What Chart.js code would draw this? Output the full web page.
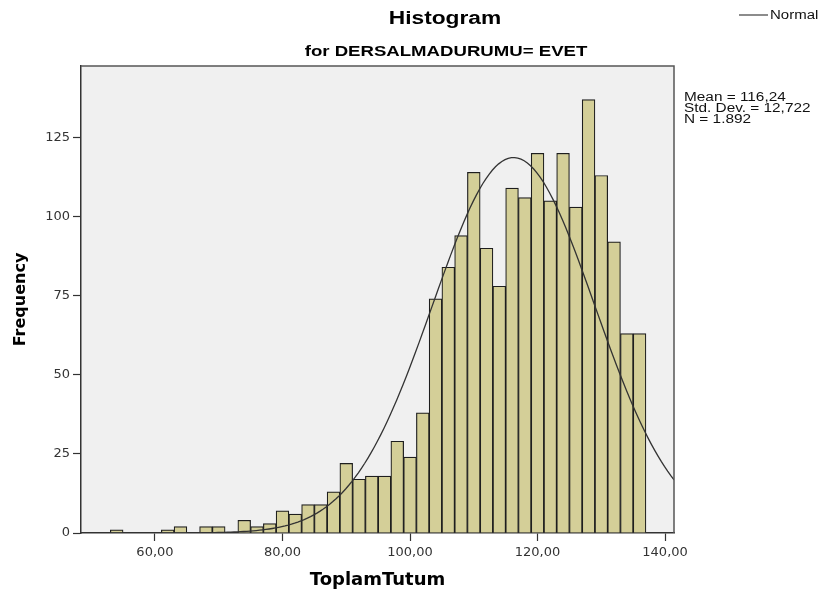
<!DOCTYPE html>
<html>
<head>
<meta charset="utf-8">
<script src="https://cdn.jsdelivr.net/npm/chart.js@4.4.1/dist/chart.umd.min.js"></script>
<style>
  html, body { margin: 0; padding: 0; background: #fff; }
  canvas { display: block; }
</style>
</head>
<body>
<canvas id="histo" width="819" height="596"></canvas>
<script>
// Classes (centre de chaque classe, largeur 2)
const binCenters = [54, 56, 58, 60, 62, 64, 66, 68, 70, 72, 74, 76, 78, 80, 82, 84, 86, 88, 90, 92, 94,
  96, 98, 100, 102, 104, 106, 108, 110, 112, 114, 116, 118, 120, 122, 124, 126, 128, 130, 132, 134, 136];
const frequencies = [1, 0, 0, 0, 1, 2, 0, 2, 2, 0, 4, 2, 3, 7, 6, 9, 9, 13, 22, 17, 18,
  18, 29, 24, 38, 74, 84, 94, 114, 90, 78, 109, 106, 120, 105, 120, 103, 137, 113, 92, 63, 63];

const xTicks = [60, 80, 100, 120, 140];
const yTicks = [0, 25, 50, 75, 100, 125];

// Statistiques affichées à droite
const MEAN = 116.24;
const SD = 12.722;
const N = 1892;
const BIN_WIDTH = 2;
const statLines = ['Mean = 116,24', 'Std. Dev. = 12,722', 'N = 1.892'];

const X_MIN = 48.4, X_MAX = 141.4;
const Y_MAX = 147.6;

// Courbe normale à partir de la moyenne / écart-type
const normalCurve = [];
for (let x = X_MIN; x <= X_MAX + 0.001; x += 0.5) {
  const z = (x - MEAN) / SD;
  normalCurve.push({ x, y: N * BIN_WIDTH / (SD * Math.sqrt(2 * Math.PI)) * Math.exp(-z * z / 2) });
}

const barData = binCenters.map((c, i) => ({ x: c, y: frequencies[i] }));

// texte étiré horizontalement (comme la sortie SPSS)
function wideText(ctx, text, x, y, sx, align) {
  ctx.save();
  ctx.translate(x, y);
  ctx.scale(sx, 1);
  ctx.textAlign = align || 'left';
  ctx.fillText(text, 0, 0);
  ctx.restore();
}

const spssDecor = {
  id: 'spssDecor',
  beforeDraw(chart) {
    const { ctx, chartArea: a } = chart;
    ctx.save();
    ctx.fillStyle = '#f0f0f0';
    ctx.fillRect(a.left, a.top, a.right - a.left, a.bottom - a.top);
    ctx.restore();
  },
  afterDraw(chart) {
    const { ctx, chartArea: a } = chart;
    ctx.save();
    // cadre haut / droite
    ctx.strokeStyle = '#555';
    ctx.lineWidth = 1.5;
    ctx.beginPath();
    ctx.moveTo(a.left, a.top);
    ctx.lineTo(a.right, a.top);
    ctx.lineTo(a.right, a.bottom);
    ctx.stroke();

    // titres
    ctx.fillStyle = '#000';
    ctx.textBaseline = 'alphabetic';
    ctx.font = 'bold 17.5px "Liberation Sans", Arial, sans-serif';
    wideText(ctx, 'Histogram', 445, 24, 1.3, 'center');
    ctx.font = 'bold 15px "Liberation Sans", Arial, sans-serif';
    wideText(ctx, 'for DERSALMADURUMU= EVET', 446, 56, 1.24, 'center');

    // statistiques
    ctx.fillStyle = '#111';
    ctx.font = '12px "Liberation Sans", Arial, sans-serif';
    statLines.forEach((s, i) => wideText(ctx, s, a.right + 10, 101 + i * 11, 1.28));

    // légende
    ctx.strokeStyle = '#666';
    ctx.lineWidth = 1.5;
    ctx.beginPath();
    ctx.moveTo(739, 15);
    ctx.lineTo(768, 15);
    ctx.stroke();
    ctx.fillStyle = '#111';
    ctx.textBaseline = 'middle';
    wideText(ctx, 'Normal', 770, 15.5, 1.25);
    ctx.restore();
  }
};

const fmtX = v => v.toFixed(2).replace('.', ',');

new Chart(document.getElementById('histo'), {
  type: 'bar',
  data: {
    datasets: [
      {
        type: 'line',
        label: 'Normal',
        data: normalCurve,
        borderColor: '#333',
        borderWidth: 1.3,
        pointRadius: 0,
        fill: false,
        order: 0
      },
      {
        label: 'Frequency',
        data: barData,
        backgroundColor: '#d4cf98',
        borderColor: '#1e1e1e',
        borderWidth: 1.2,
        barPercentage: 1,
        categoryPercentage: 1,
        order: 1
      }
    ]
  },
  options: {
    responsive: false,
    animation: false,
    layout: { padding: { top: 66, right: 145, left: 0, bottom: 0 } },
    plugins: { legend: { display: false }, tooltip: { enabled: false } },
    scales: {
      x: {
        type: 'linear',
        min: X_MIN,
        max: X_MAX,
        offset: false,
        afterBuildTicks: s => { s.ticks = xTicks.map(v => ({ value: v })); },
        afterFit: s => { s.height = 63; },
        grid: { offset: false, drawOnChartArea: false, tickLength: 8, tickColor: '#333', tickWidth: 1.2 },
        border: { color: '#333', width: 1.5 },
        ticks: {
          padding: 4,
          color: '#333',
          maxRotation: 0,
          font: { family: '"DejaVu Sans", sans-serif', size: 13 },
          callback: v => fmtX(v)
        },
        title: {
          display: true,
          text: 'ToplamTutum',
          color: '#000',
          padding: { top: 0, bottom: 5 },
          font: { family: '"DejaVu Sans", sans-serif', size: 18, weight: 'bold' }
        }
      },
      y: {
        min: 0,
        max: Y_MAX,
        afterBuildTicks: s => { s.ticks = yTicks.map(v => ({ value: v })); },
        afterFit: s => { s.width = 81; },
        grid: { drawOnChartArea: false, tickLength: 8, tickColor: '#333', tickWidth: 1.2 },
        border: { color: '#333', width: 1.5 },
        ticks: {
          padding: 3,
          color: '#333',
          font: { family: '"DejaVu Sans", sans-serif', size: 13 }
        },
        title: {
          display: true,
          text: 'Frequency',
          color: '#000',
          padding: { top: 11, bottom: 0 },
          font: { family: '"DejaVu Sans", sans-serif', size: 16, weight: 'bold' }
        }
      }
    }
  },
  plugins: [spssDecor]
});
</script>
</body>
</html>
